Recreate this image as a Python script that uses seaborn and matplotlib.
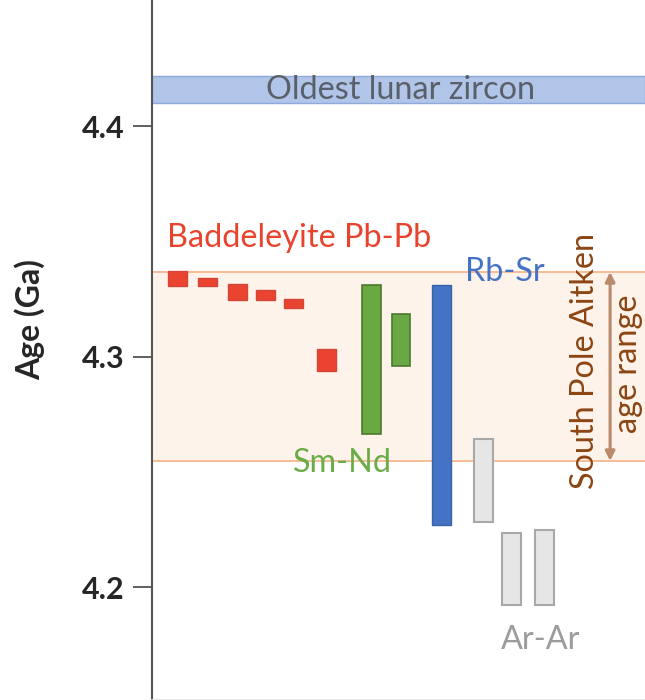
import matplotlib
matplotlib.use("Agg")
import matplotlib.pyplot as plt
import seaborn as sns
import pandas as pd

# ---- data (ages in Ga) ----
methods = ["Pb-Pb"] * 6 + ["Sm-Nd"] * 2 + ["Rb-Sr"] + ["Ar-Ar"] * 3
x_pos = [0.86, 1.86, 2.85, 3.78, 4.71, 5.81, 7.31, 8.30, 9.66, 11.05, 11.98, 13.09]
age_top = [4.3373, 4.3343, 4.3313, 4.3289, 4.3251, 4.3035,
           4.3312, 4.3183, 4.3312, 4.2641, 4.2236, 4.2247]
age_bottom = [4.3308, 4.3308, 4.3245, 4.3247, 4.3210, 4.2938,
              4.2663, 4.2958, 4.2268, 4.2284, 4.1921, 4.1921]
spa_range = (4.2547, 4.3367)
zircon_range = (4.4098, 4.4218)
y_ticks = [4.2, 4.3, 4.4]

df = pd.DataFrame({"method": methods, "x": x_pos, "top": age_top, "bottom": age_bottom})
df["height"] = df["top"] - df["bottom"]

fill = {"Pb-Pb": "#ea4430", "Sm-Nd": "#6aa844", "Rb-Sr": "#4472c4", "Ar-Ar": "#e6e6e6"}
edge = {"Pb-Pb": "#d0473a", "Sm-Nd": "#4a7a2e", "Rb-Sr": "#3a62a8", "Ar-Ar": "#a8a8a8"}
lw = {"Pb-Pb": 1.0, "Sm-Nd": 1.2, "Rb-Sr": 1.0, "Ar-Ar": 1.5}

sns.set_theme(style="white")
plt.rcParams["font.family"] = ["Lato", "DejaVu Sans"]

FS = 23.3

fig = plt.figure(figsize=(6.45, 7.0), dpi=100)
ax = fig.add_axes([152 / 645, 0.0, 493 / 645, 1.0])
ax.set_xlim(0, 493 / 30)
ax.set_ylim(4.151, 4.4547)

# SPA age range band
ax.axhspan(spa_range[0], spa_range[1], color="#fdf3ea", zorder=0, lw=0)
for v in spa_range:
    ax.axhline(v, color="#f6b88e", lw=1.3, zorder=1)

# oldest lunar zircon band
ax.axhspan(zircon_range[0], zircon_range[1], facecolor="#b1c5e8", edgecolor="#8eaadc",
           lw=1.0, zorder=1)
ax.text(8.3, sum(zircon_range) / 2, "Oldest lunar zircon", ha="center", va="center",
        fontsize=FS, color="#5a606a", zorder=3)

# age bars
for m, g in df.groupby("method", sort=False):
    ax.bar(g["x"], g["height"], bottom=g["bottom"], width=0.63,
           color=fill[m], edgecolor=edge[m], linewidth=lw[m], zorder=2)

# method labels
ax.text(0.5, 4.3514, "Baddeleyite Pb-Pb", ha="left", va="center", fontsize=FS,
        color="#e8432d")
ax.text(10.43, 4.3367, "Rb-Sr", ha="left", va="center", fontsize=FS, color="#4472c4", zorder=3)
ax.text(4.7, 4.2538, "Sm-Nd", ha="left", va="center", fontsize=FS, color="#6aad46", zorder=3)
ax.text(11.63, 4.177, "Ar-Ar", ha="left", va="center", fontsize=FS, color="#9c9c9c")

# SPA annotation
ax.text(14.43, 4.298, "South Pole Aitken", rotation=90, ha="center", va="center",
        fontsize=FS, color="#8b4513")
ax.text(15.87, 4.297, "age range", rotation=90, ha="center", va="center",
        fontsize=FS, color="#8b4513")
ax.annotate("", xy=(15.27, spa_range[1]), xytext=(15.27, spa_range[0]),
            arrowprops=dict(arrowstyle="<|-|>", color="#b98a6c", lw=2.2,
                            mutation_scale=14, shrinkA=0, shrinkB=0))

# axes styling
for s in ["top", "right"]:
    ax.spines[s].set_visible(False)
ax.spines["bottom"].set_color("#e0e0e0")
ax.spines["left"].set_color("#555555")
ax.spines["left"].set_linewidth(1.5)
ax.set_xticks([])
ax.set_yticks(y_ticks)
ax.set_yticklabels([f"{t:.1f}" for t in y_ticks], fontsize=22, fontweight="bold")
ax.tick_params(axis="y", direction="out", length=14, width=1.2, color="#444444",
               left=True, pad=6)
ax.set_ylabel("")
fig.text(30 / 645, 1 - 320 / 700, "Age (Ga)", rotation=90, ha="center", va="center",
         fontsize=23, fontweight="bold")

fig.savefig("out.png", dpi=100)
